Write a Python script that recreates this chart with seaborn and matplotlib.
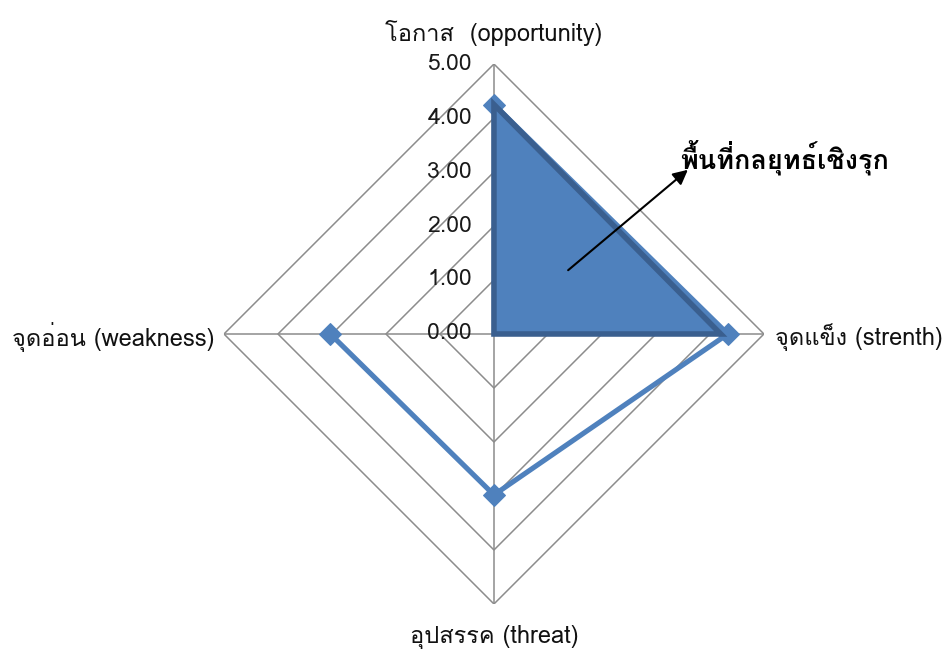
import numpy as np
import pandas as pd
import matplotlib
matplotlib.use("Agg")
import matplotlib.pyplot as plt
import matplotlib.transforms as mtransforms
from matplotlib import font_manager
from matplotlib.ft2font import FT2Font
import seaborn as sns

# ---------------- data ----------------
categories = ["โอกาส  (opportunity)", "จุดแข็ง (strenth)", "อุปสรรค (threat)", "จุดอ่อน (weakness)"]
series_values = [4.25, 4.33, 2.98, 3.03]
strategy_area = [4.25, 4.20, 0.0, 0.0]
tick_values = [0, 1, 2, 3, 4, 5]
tick_labels = ["0.00", "1.00", "2.00", "3.00", "4.00", "5.00"]
annotation_text = "พื้นที่กลยุทธ์เชิงรุก"

# ---------------- fonts ----------------
sns.set_theme(style="white")
thai_family = None
for f in font_manager.fontManager.ttflist:
    try:
        cmap = FT2Font(f.fname).get_charmap()
        if 0x0E01 in cmap and 0x0E2D in cmap:
            thai_family = f.name
            break
    except Exception:
        pass
families = ([thai_family] if thai_family else []) + ["DejaVu Sans"]
plt.rcParams["font.family"] = families

# ---------------- figure ----------------
fig = plt.figure(figsize=(9.49, 6.54), dpi=100)
ax = fig.add_axes([0.2360, 0.07645, 0.569, 0.8257], projection="polar")
ax.set_theta_zero_location("N")
ax.set_theta_direction(-1)

n = len(categories)
angles = np.arange(n) * 2 * np.pi / n
ang_closed = np.append(angles, angles[0])

grid_color = "#8C8C8C"
# diamond gridlines
for r in tick_values[1:]:
    ax.plot(ang_closed, [r] * (n + 1), color=grid_color, lw=1.1, zorder=1)
# spokes
for a in angles:
    ax.plot([a, a], [0, tick_values[-1]], color=grid_color, lw=1.1, zorder=1)

# main series
df = pd.DataFrame({"theta": ang_closed, "r": series_values + [series_values[0]], "order": range(n + 1)})
sns.lineplot(data=df, x="theta", y="r", sort=False, ax=ax, color="#4F81BD", lw=3.7,
             marker="D", markersize=11, markeredgecolor="#4F81BD", zorder=3)

# strategy area (filled triangle)
sa_closed = strategy_area + [strategy_area[0]]
ax.fill(ang_closed, sa_closed, facecolor="#4F81BD", edgecolor="#3A5F8F", lw=4.0,
        joinstyle="miter", zorder=4)

ax.set_ylim(0, tick_values[-1])
ax.set_xticks([])
ax.set_yticks([])
ax.grid(False)
ax.spines["polar"].set_visible(False)
ax.set_xlabel("")
ax.set_ylabel("")
ax.patch.set_alpha(0)

# radial tick labels
off = mtransforms.offset_copy(ax.transData, fig=fig, x=-22, y=0, units="dots")
for v, lab in zip(tick_values, tick_labels):
    ax.text(0, v, lab, transform=off, ha="right", va="center", fontsize=16.5,
            color="#1a1a1a", zorder=5)

# category labels
lab_kw = dict(fontsize=17, color="#111111")
fig.text(494 / 949, 1 - 33 / 654, categories[0], ha="center", va="center", **lab_kw)
fig.text(775 / 949, 1 - 337 / 654, categories[1], ha="left", va="center", **lab_kw)
fig.text(494 / 949, 1 - 637 / 654, categories[2], ha="center", va="center", **lab_kw)
fig.text(214 / 949, 1 - 337 / 654, categories[3], ha="right", va="center", **lab_kw)

# annotation arrow + text
fig.add_artist(matplotlib.patches.FancyArrowPatch(
    (566 / 949, 1 - 272 / 654), (690 / 949, 1 - 168 / 654),
    transform=fig.transFigure, arrowstyle="-|>", mutation_scale=22,
    color="black", lw=1.5))
fig.text(680 / 949, 1 - 158 / 654, annotation_text, ha="left", va="center",
         fontsize=19.5, fontweight="bold", color="black")

fig.savefig("out.png", dpi=100)
